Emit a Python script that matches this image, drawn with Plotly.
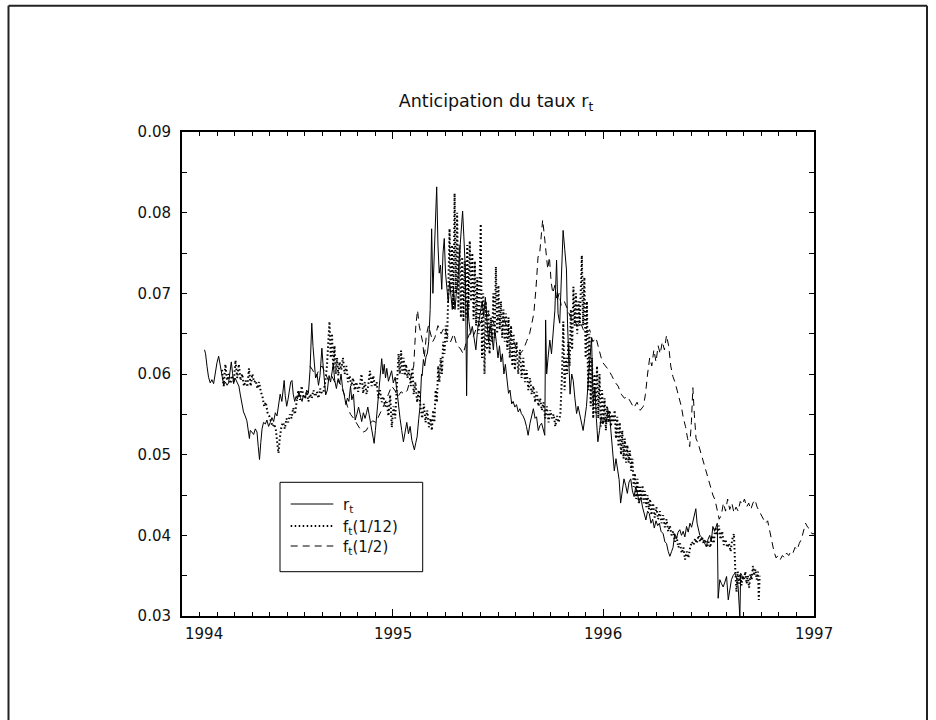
import plotly.graph_objects as go

# ---------------------------------------------------------------- data
X_TICKS = [1994, 1995, 1996, 1997]
X_TICK_TEXT = ["1994", "1995", "1996", "1997"]
Y_TICKS = [0.03, 0.04, 0.05, 0.06, 0.07, 0.08, 0.09]
Y_TICK_TEXT = ["0.03", "0.04", "0.05", "0.06", "0.07", "0.08", "0.09"]

TITLE = "Anticipation du taux r<sub>t</sub>"
NAMES = ["r<sub>t</sub>", "f<sub>t</sub>(1/12)", "f<sub>t</sub>(1/2)"]

# short rate r_t (date in years, level)
r_t = [
    (1994.107, .0630), (1994.112, .0625), (1994.119, .0609), (1994.126, .0596), (1994.134, .0589),
    (1994.142, .0593), (1994.150, .0588), (1994.158, .0603), (1994.166, .0614), (1994.174, .0622),
    (1994.182, .0609), (1994.190, .0596), (1994.198, .0586), (1994.206, .0590), (1994.214, .0586),
    (1994.221, .0589), (1994.228, .0600), (1994.234, .0615), (1994.240, .0601), (1994.245, .0588),
    (1994.252, .0595), (1994.261, .0590), (1994.270, .0585), (1994.277, .0574), (1994.285, .0560),
    (1994.292, .0553), (1994.300, .0548), (1994.308, .0542), (1994.320, .0520), (1994.324, .0530),
    (1994.332, .0528), (1994.340, .0525), (1994.348, .0532), (1994.356, .0528), (1994.362, .0510),
    (1994.368, .0494), (1994.374, .0515), (1994.380, .0532), (1994.387, .0540), (1994.396, .0538),
    (1994.403, .0543), (1994.411, .0535), (1994.419, .0540), (1994.427, .0546), (1994.435, .0541),
    (1994.443, .0552), (1994.451, .0548), (1994.458, .0560), (1994.466, .0575), (1994.474, .0566),
    (1994.480, .0583), (1994.485, .0592), (1994.490, .0573), (1994.497, .0560), (1994.503, .0568),
    (1994.510, .0578), (1994.516, .0590), (1994.522, .0592), (1994.528, .0575), (1994.535, .0566),
    (1994.541, .0572), (1994.548, .0569), (1994.555, .0578), (1994.562, .0571), (1994.570, .0566),
    (1994.577, .0574), (1994.585, .0570), (1994.592, .0580), (1994.600, .0576), (1994.608, .0606),
    (1994.616, .0663), (1994.622, .0634), (1994.628, .0609), (1994.634, .0595), (1994.641, .0600),
    (1994.648, .0586), (1994.655, .0598), (1994.660, .0615), (1994.664, .0632), (1994.670, .0610),
    (1994.676, .0585), (1994.682, .0574), (1994.690, .0580), (1994.698, .0598), (1994.705, .0590),
    (1994.712, .0606), (1994.718, .0612), (1994.725, .0592), (1994.733, .0582), (1994.740, .0593),
    (1994.748, .0588), (1994.755, .0600), (1994.762, .0583), (1994.770, .0574), (1994.778, .0562),
    (1994.785, .0570), (1994.792, .0566), (1994.800, .0585), (1994.806, .0568), (1994.814, .0575),
    (1994.822, .0543), (1994.830, .0550), (1994.838, .0559), (1994.846, .0550), (1994.853, .0541),
    (1994.861, .0552), (1994.869, .0545), (1994.876, .0552), (1994.882, .0559), (1994.888, .0550),
    (1994.893, .0543), (1994.901, .0530), (1994.907, .0522), (1994.912, .0514), (1994.918, .0530),
    (1994.925, .0551), (1994.930, .0560), (1994.938, .0590), (1994.944, .0605), (1994.948, .0619),
    (1994.954, .0600), (1994.960, .0612), (1994.966, .0595), (1994.972, .0607), (1994.980, .0591),
    (1994.988, .0600), (1994.995, .0604), (1995.003, .0589), (1995.012, .0596), (1995.020, .0580),
    (1995.027, .0560), (1995.035, .0545), (1995.043, .0530), (1995.051, .0516), (1995.059, .0528),
    (1995.067, .0540), (1995.075, .0526), (1995.083, .0535), (1995.091, .0518), (1995.097, .0510),
    (1995.103, .0506), (1995.110, .0515), (1995.116, .0522), (1995.124, .0545), (1995.130, .0560),
    (1995.137, .0600), (1995.140, .0598), (1995.146, .0618), (1995.152, .0610), (1995.158, .0621),
    (1995.165, .0626), (1995.171, .0640), (1995.178, .0680), (1995.185, .0780), (1995.191, .0700),
    (1995.197, .0745), (1995.203, .0790), (1995.209, .0832), (1995.215, .0760), (1995.221, .0725),
    (1995.227, .0735), (1995.233, .0705), (1995.239, .0750), (1995.245, .0768), (1995.251, .0725),
    (1995.257, .0705), (1995.264, .0688), (1995.270, .0715), (1995.276, .0695), (1995.283, .0680),
    (1995.289, .0705), (1995.296, .0680), (1995.302, .0700), (1995.308, .0710), (1995.315, .0740),
    (1995.321, .0760), (1995.327, .0790), (1995.332, .0802), (1995.338, .0770), (1995.345, .0730),
    (1995.351, .0573), (1995.356, .0690), (1995.362, .0665), (1995.370, .0650), (1995.378, .0659),
    (1995.386, .0642), (1995.395, .0630), (1995.403, .0655), (1995.411, .0670), (1995.418, .0680),
    (1995.425, .0690), (1995.432, .0672), (1995.440, .0695), (1995.448, .0665), (1995.455, .0640),
    (1995.462, .0660), (1995.470, .0650), (1995.478, .0630), (1995.485, .0655), (1995.492, .0640),
    (1995.500, .0620), (1995.507, .0635), (1995.514, .0615), (1995.521, .0625), (1995.528, .0600),
    (1995.535, .0612), (1995.542, .0590), (1995.550, .0576), (1995.557, .0580), (1995.565, .0563),
    (1995.572, .0566), (1995.580, .0559), (1995.588, .0562), (1995.596, .0553), (1995.604, .0557),
    (1995.611, .0551), (1995.619, .0548), (1995.627, .0543), (1995.635, .0535), (1995.643, .0524),
    (1995.652, .0539), (1995.660, .0550), (1995.668, .0557), (1995.676, .0545), (1995.683, .0547),
    (1995.691, .0530), (1995.699, .0536), (1995.707, .0539), (1995.715, .0530), (1995.722, .0524),
    (1995.726, .0667), (1995.731, .0600), (1995.738, .0621), (1995.746, .0642), (1995.754, .0625),
    (1995.762, .0650), (1995.770, .0679), (1995.778, .0741), (1995.785, .0675), (1995.793, .0663),
    (1995.801, .0725), (1995.809, .0778), (1995.817, .0754), (1995.825, .0729), (1995.830, .0663),
    (1995.836, .0620), (1995.842, .0575), (1995.850, .0600), (1995.857, .0592), (1995.865, .0570),
    (1995.873, .0551), (1995.880, .0560), (1995.888, .0551), (1995.896, .0542), (1995.904, .0530),
    (1995.912, .0545), (1995.920, .0560), (1995.928, .0590), (1995.936, .0620), (1995.944, .0645),
    (1995.952, .0560), (1995.960, .0584), (1995.967, .0545), (1995.974, .0516), (1995.982, .0530),
    (1995.990, .0547), (1995.998, .0538), (1996.006, .0545), (1996.014, .0540), (1996.022, .0555),
    (1996.030, .0548), (1996.038, .0525), (1996.046, .0500), (1996.052, .0480), (1996.060, .0495),
    (1996.067, .0485), (1996.075, .0469), (1996.082, .0440), (1996.090, .0458), (1996.098, .0470),
    (1996.106, .0462), (1996.114, .0452), (1996.122, .0466), (1996.130, .0470), (1996.138, .0455),
    (1996.146, .0448), (1996.154, .0460), (1996.162, .0452), (1996.170, .0440), (1996.178, .0447),
    (1996.186, .0435), (1996.194, .0428), (1996.202, .0419), (1996.210, .0430), (1996.218, .0427),
    (1996.226, .0415), (1996.234, .0420), (1996.242, .0409), (1996.250, .0418), (1996.258, .0412),
    (1996.266, .0415), (1996.274, .0405), (1996.284, .0402), (1996.292, .0392), (1996.300, .0390),
    (1996.308, .0380), (1996.316, .0374), (1996.324, .0380), (1996.331, .0385), (1996.339, .0402),
    (1996.347, .0396), (1996.355, .0404), (1996.363, .0407), (1996.371, .0400), (1996.379, .0405),
    (1996.387, .0398), (1996.395, .0411), (1996.403, .0404), (1996.411, .0415), (1996.419, .0410),
    (1996.426, .0419), (1996.433, .0425), (1996.439, .0433), (1996.445, .0415), (1996.451, .0407),
    (1996.458, .0400), (1996.466, .0398), (1996.473, .0394), (1996.481, .0390), (1996.489, .0386),
    (1996.497, .0395), (1996.505, .0400), (1996.512, .0392), (1996.520, .0411), (1996.528, .0405),
    (1996.536, .0410), (1996.541, .0415), (1996.545, .0322), (1996.553, .0345), (1996.561, .0340),
    (1996.569, .0336), (1996.577, .0342), (1996.585, .0349), (1996.593, .0320), (1996.600, .0333),
    (1996.608, .0345), (1996.616, .0350), (1996.624, .0353), (1996.632, .0348), (1996.640, .0336),
    (1996.648, .0298), (1996.652, .0353), (1996.658, .0350), (1996.664, .0345),
]

# one-month forward rate f_t(1/12), plotted at its maturity date
f_1_12 = [
    (1994.190, .0605), (1994.198, .0585), (1994.206, .0612), (1994.214, .0592), (1994.222, .0600),
    (1994.230, .0588), (1994.238, .0598), (1994.246, .0590), (1994.254, .0617), (1994.262, .0595),
    (1994.270, .0612), (1994.278, .0592), (1994.286, .0600), (1994.294, .0585), (1994.302, .0592),
    (1994.310, .0584), (1994.318, .0607), (1994.326, .0585), (1994.334, .0600), (1994.342, .0590),
    (1994.350, .0592), (1994.358, .0582), (1994.366, .0590), (1994.374, .0578), (1994.382, .0572),
    (1994.390, .0560), (1994.398, .0565), (1994.406, .0552), (1994.414, .0548), (1994.422, .0540),
    (1994.430, .0535), (1994.438, .0538), (1994.446, .0530), (1994.452, .0515), (1994.458, .0502),
    (1994.464, .0520), (1994.472, .0535), (1994.480, .0540), (1994.488, .0532), (1994.496, .0545),
    (1994.504, .0540), (1994.512, .0550), (1994.520, .0545), (1994.528, .0558), (1994.536, .0550),
    (1994.544, .0565), (1994.552, .0580), (1994.560, .0568), (1994.568, .0585), (1994.576, .0572),
    (1994.584, .0570), (1994.592, .0578), (1994.600, .0566), (1994.608, .0575), (1994.616, .0570),
    (1994.624, .0580), (1994.632, .0572), (1994.640, .0578), (1994.648, .0570), (1994.656, .0582),
    (1994.664, .0576), (1994.672, .0578), (1994.680, .0590), (1994.688, .0610), (1994.694, .0640),
    (1994.700, .0665), (1994.706, .0620), (1994.712, .0650), (1994.718, .0605), (1994.724, .0635),
    (1994.730, .0600), (1994.736, .0620), (1994.742, .0598), (1994.748, .0615), (1994.756, .0605),
    (1994.764, .0620), (1994.772, .0600), (1994.780, .0610), (1994.788, .0590), (1994.796, .0598),
    (1994.804, .0585), (1994.812, .0595), (1994.820, .0580), (1994.828, .0590), (1994.836, .0578),
    (1994.844, .0585), (1994.852, .0600), (1994.860, .0576), (1994.868, .0590), (1994.876, .0575),
    (1994.884, .0585), (1994.892, .0604), (1994.900, .0585), (1994.908, .0598), (1994.916, .0584),
    (1994.924, .0590), (1994.932, .0570), (1994.940, .0580), (1994.948, .0565), (1994.956, .0572),
    (1994.964, .0560), (1994.972, .0565), (1994.980, .0548), (1994.988, .0574), (1994.996, .0534),
    (1995.004, .0560), (1995.012, .0545), (1995.020, .0580), (1995.028, .0625), (1995.034, .0600),
    (1995.040, .0629), (1995.046, .0600), (1995.052, .0620), (1995.058, .0598), (1995.064, .0612),
    (1995.070, .0595), (1995.078, .0605), (1995.086, .0585), (1995.094, .0608), (1995.100, .0575),
    (1995.108, .0590), (1995.116, .0565), (1995.124, .0580), (1995.132, .0560), (1995.140, .0545),
    (1995.148, .0563), (1995.156, .0540), (1995.164, .0555), (1995.172, .0534), (1995.180, .0545),
    (1995.186, .0530), (1995.192, .0555), (1995.198, .0540), (1995.204, .0580), (1995.210, .0565),
    (1995.216, .0610), (1995.222, .0590), (1995.228, .0620), (1995.234, .0600), (1995.240, .0640),
    (1995.246, .0625), (1995.252, .0660), (1995.258, .0640), (1995.264, .0700), (1995.270, .0780),
    (1995.276, .0700), (1995.282, .0760), (1995.288, .0680), (1995.294, .0824), (1995.300, .0700),
    (1995.306, .0800), (1995.312, .0680), (1995.318, .0760), (1995.324, .0670), (1995.330, .0745),
    (1995.336, .0665), (1995.342, .0740), (1995.348, .0670), (1995.354, .0760), (1995.360, .0680),
    (1995.366, .0765), (1995.372, .0690), (1995.378, .0750), (1995.384, .0668), (1995.390, .0740),
    (1995.396, .0660), (1995.402, .0720), (1995.408, .0650), (1995.414, .0760), (1995.418, .0786),
    (1995.424, .0620), (1995.430, .0700), (1995.436, .0600), (1995.442, .0690), (1995.448, .0630),
    (1995.454, .0680), (1995.460, .0625), (1995.466, .0670), (1995.472, .0640), (1995.478, .0700),
    (1995.484, .0645), (1995.490, .0733), (1995.496, .0650), (1995.502, .0710), (1995.508, .0655),
    (1995.514, .0690), (1995.520, .0645), (1995.526, .0680), (1995.532, .0640), (1995.538, .0675),
    (1995.544, .0630), (1995.550, .0670), (1995.556, .0620), (1995.562, .0660), (1995.568, .0610),
    (1995.574, .0650), (1995.580, .0605), (1995.588, .0640), (1995.596, .0600), (1995.604, .0630),
    (1995.612, .0595), (1995.620, .0620), (1995.628, .0590), (1995.636, .0605), (1995.644, .0580),
    (1995.652, .0595), (1995.660, .0575), (1995.668, .0585), (1995.676, .0565), (1995.684, .0578),
    (1995.692, .0560), (1995.700, .0570), (1995.708, .0555), (1995.716, .0565), (1995.724, .0545),
    (1995.732, .0560), (1995.740, .0540), (1995.748, .0555), (1995.756, .0545), (1995.764, .0550),
    (1995.772, .0535), (1995.780, .0548), (1995.788, .0540), (1995.796, .0550), (1995.804, .0600),
    (1995.810, .0665), (1995.816, .0580), (1995.822, .0620), (1995.828, .0600), (1995.834, .0640),
    (1995.840, .0610), (1995.846, .0680), (1995.852, .0630), (1995.858, .0708), (1995.864, .0660),
    (1995.870, .0700), (1995.876, .0650), (1995.882, .0690), (1995.888, .0660), (1995.894, .0730),
    (1995.898, .0747), (1995.904, .0660), (1995.910, .0720), (1995.916, .0620), (1995.922, .0690),
    (1995.928, .0580), (1995.934, .0650), (1995.940, .0560), (1995.946, .0620), (1995.952, .0545),
    (1995.958, .0600), (1995.964, .0550), (1995.970, .0610), (1995.976, .0545), (1995.982, .0600),
    (1995.988, .0535), (1995.994, .0580), (1996.000, .0540), (1996.006, .0570), (1996.012, .0530),
    (1996.018, .0560), (1996.024, .0540), (1996.030, .0555), (1996.036, .0535), (1996.042, .0550),
    (1996.048, .0540), (1996.054, .0555), (1996.060, .0520), (1996.066, .0547), (1996.072, .0510),
    (1996.078, .0540), (1996.084, .0500), (1996.090, .0530), (1996.096, .0495), (1996.102, .0520),
    (1996.108, .0490), (1996.114, .0512), (1996.120, .0490), (1996.126, .0505), (1996.132, .0480),
    (1996.138, .0495), (1996.144, .0460), (1996.150, .0477), (1996.156, .0445), (1996.162, .0470),
    (1996.168, .0440), (1996.174, .0460), (1996.180, .0445), (1996.186, .0462), (1996.192, .0440),
    (1996.198, .0455), (1996.204, .0435), (1996.210, .0450), (1996.216, .0432), (1996.222, .0445),
    (1996.228, .0425), (1996.236, .0440), (1996.244, .0422), (1996.252, .0435), (1996.260, .0420),
    (1996.268, .0430), (1996.276, .0415), (1996.284, .0425), (1996.292, .0410), (1996.300, .0420),
    (1996.308, .0405), (1996.316, .0412), (1996.324, .0400), (1996.332, .0405), (1996.340, .0392),
    (1996.348, .0398), (1996.356, .0385), (1996.364, .0390), (1996.372, .0378), (1996.380, .0385),
    (1996.388, .0370), (1996.396, .0380), (1996.404, .0372), (1996.412, .0385), (1996.420, .0392),
    (1996.428, .0388), (1996.436, .0396), (1996.444, .0390), (1996.452, .0400), (1996.460, .0392),
    (1996.468, .0398), (1996.476, .0390), (1996.484, .0395), (1996.492, .0385), (1996.500, .0392),
    (1996.508, .0385), (1996.516, .0400), (1996.524, .0390), (1996.532, .0410), (1996.540, .0400),
    (1996.548, .0412), (1996.556, .0395), (1996.564, .0405), (1996.572, .0388), (1996.580, .0395),
    (1996.588, .0385), (1996.596, .0390), (1996.604, .0380), (1996.612, .0395), (1996.620, .0402),
    (1996.626, .0360), (1996.632, .0330), (1996.638, .0355), (1996.644, .0340), (1996.650, .0352),
    (1996.656, .0338), (1996.662, .0350), (1996.668, .0345), (1996.674, .0355), (1996.680, .0340),
    (1996.686, .0350), (1996.692, .0335), (1996.698, .0352), (1996.704, .0345), (1996.710, .0362),
    (1996.716, .0350), (1996.722, .0358), (1996.728, .0345), (1996.734, .0355), (1996.738, .0320),
    (1996.742, .0350),
]

# six-month forward rate f_t(1/2), plotted at its maturity date
f_1_2 = [
    (1994.607, .0610), (1994.620, .0605), (1994.635, .0596), (1994.650, .0605), (1994.665, .0610),
    (1994.680, .0600), (1994.695, .0592), (1994.710, .0598), (1994.725, .0590), (1994.740, .0595),
    (1994.755, .0585), (1994.770, .0575), (1994.785, .0560), (1994.800, .0550), (1994.815, .0545),
    (1994.830, .0538), (1994.845, .0532), (1994.860, .0528), (1994.875, .0530), (1994.890, .0538),
    (1994.905, .0542), (1994.920, .0540), (1994.935, .0548), (1994.950, .0555), (1994.965, .0565),
    (1994.980, .0575), (1994.995, .0585), (1995.010, .0580), (1995.025, .0572), (1995.040, .0578),
    (1995.055, .0575), (1995.070, .0580), (1995.085, .0595), (1995.100, .0610), (1995.110, .0660),
    (1995.118, .0679), (1995.126, .0660), (1995.134, .0650), (1995.142, .0640), (1995.150, .0620),
    (1995.160, .0648), (1995.170, .0660), (1995.180, .0648), (1995.190, .0640), (1995.200, .0645),
    (1995.215, .0660), (1995.230, .0650), (1995.245, .0658), (1995.260, .0648), (1995.275, .0640),
    (1995.290, .0650), (1995.305, .0635), (1995.320, .0632), (1995.335, .0625), (1995.350, .0640),
    (1995.365, .0650), (1995.380, .0645), (1995.395, .0655), (1995.410, .0660), (1995.425, .0668),
    (1995.440, .0670), (1995.455, .0675), (1995.470, .0668), (1995.485, .0660), (1995.500, .0670),
    (1995.515, .0665), (1995.530, .0668), (1995.545, .0655), (1995.560, .0650), (1995.575, .0640),
    (1995.590, .0630), (1995.605, .0625), (1995.620, .0630), (1995.635, .0640), (1995.650, .0650),
    (1995.660, .0662), (1995.670, .0675), (1995.680, .0705), (1995.690, .0745), (1995.698, .0750),
    (1995.705, .0770), (1995.712, .0791), (1995.720, .0772), (1995.728, .0750), (1995.736, .0730),
    (1995.744, .0745), (1995.752, .0715), (1995.760, .0700), (1995.770, .0710), (1995.780, .0690),
    (1995.790, .0700), (1995.800, .0685), (1995.815, .0690), (1995.830, .0680), (1995.845, .0670),
    (1995.860, .0668), (1995.875, .0660), (1995.890, .0665), (1995.905, .0655), (1995.920, .0650),
    (1995.935, .0655), (1995.950, .0640), (1995.965, .0645), (1995.980, .0630), (1995.995, .0615),
    (1996.010, .0610), (1996.025, .0605), (1996.040, .0598), (1996.055, .0590), (1996.070, .0585),
    (1996.085, .0575), (1996.100, .0570), (1996.115, .0572), (1996.130, .0565), (1996.145, .0558),
    (1996.160, .0565), (1996.175, .0555), (1996.190, .0560), (1996.200, .0575), (1996.210, .0600),
    (1996.220, .0620), (1996.230, .0610), (1996.240, .0630), (1996.250, .0615), (1996.260, .0635),
    (1996.270, .0625), (1996.280, .0640), (1996.290, .0630), (1996.300, .0648), (1996.310, .0635),
    (1996.320, .0610), (1996.330, .0597), (1996.340, .0590), (1996.350, .0580), (1996.360, .0570),
    (1996.370, .0560), (1996.380, .0545), (1996.390, .0535), (1996.400, .0520), (1996.410, .0510),
    (1996.418, .0540), (1996.425, .0583), (1996.432, .0550), (1996.440, .0520), (1996.450, .0514),
    (1996.460, .0505), (1996.470, .0495), (1996.480, .0485), (1996.490, .0478), (1996.500, .0470),
    (1996.510, .0460), (1996.520, .0450), (1996.530, .0444), (1996.540, .0430), (1996.550, .0420),
    (1996.560, .0425), (1996.570, .0440), (1996.580, .0430), (1996.590, .0445), (1996.600, .0432),
    (1996.610, .0440), (1996.620, .0428), (1996.630, .0435), (1996.640, .0430), (1996.650, .0442),
    (1996.660, .0438), (1996.670, .0445), (1996.680, .0435), (1996.690, .0440), (1996.700, .0432),
    (1996.710, .0440), (1996.720, .0444), (1996.730, .0435), (1996.740, .0430), (1996.750, .0425),
    (1996.760, .0420), (1996.770, .0415), (1996.780, .0418), (1996.790, .0405), (1996.800, .0394),
    (1996.810, .0380), (1996.820, .0372), (1996.830, .0375), (1996.840, .0370), (1996.850, .0375),
    (1996.860, .0372), (1996.870, .0378), (1996.880, .0375), (1996.890, .0380), (1996.900, .0378),
    (1996.910, .0385), (1996.920, .0382), (1996.930, .0390), (1996.940, .0395), (1996.950, .0405),
    (1996.960, .0415), (1996.970, .0410), (1996.980, .0408), (1996.990, .0402), (1997.000, .0402),
]

# ---------------------------------------------------------------- layout constants
W, H = 936, 720
L, R, T, B = 182, 122, 132, 104
FONT = "DejaVu Sans"
INK = "#111111"

STYLES = [
    dict(color="black", width=1),
    dict(color="black", width=2, dash="1.5px,2.5px"),
    dict(color="black", width=1, dash="7px,5px"),
]


def px_x(px):
    return (px - L) / (W - L - R)


def px_y(py):
    return 1 - (py - T) / (H - T - B)


fig = go.Figure()
for series, name, style in zip([r_t, f_1_12, f_1_2], NAMES, STYLES):
    fig.add_trace(go.Scatter(
        x=[p[0] for p in series], y=[p[1] for p in series],
        mode="lines", name=name, line=style, showlegend=False,
    ))

axis_common = dict(
    showline=True, linecolor="black", linewidth=2, mirror="allticks",
    ticks="inside", tickcolor="black", tickwidth=1,
    showgrid=False, zeroline=False,
)

fig.update_xaxes(
    range=[1994, 1997], tickvals=X_TICKS, showticklabels=False, ticklen=7,
    minor=dict(dtick=1 / 12, tick0=1994, ticks="inside", ticklen=4,
               tickcolor="black", showgrid=False),
    **axis_common,
)
fig.update_yaxes(
    range=[0.03, 0.09], tickvals=Y_TICKS, ticktext=Y_TICK_TEXT, ticklen=5,
    tickfont=dict(family=FONT, size=15, color=INK), ticklabelstandoff=6,
    minor=dict(dtick=0.005, tick0=0.03, ticks="inside", ticklen=5,
               tickcolor="black", showgrid=False),
    **axis_common,
)

annotations = []
# year labels under the x axis (the first one sits flush with the axis start)
for i, (v, txt) in enumerate(zip(X_TICKS, X_TICK_TEXT)):
    annotations.append(dict(
        x=v, xref="x", y=px_y(634), yref="paper", text=txt, showarrow=False,
        xanchor="left" if i == 0 else "center", yanchor="middle",
        xshift=1 if i == 0 else 0,
        font=dict(family=FONT, size=15, color=INK),
    ))

# boxed legend
shapes = [
    dict(type="rect", xref="paper", yref="paper",
         x0=px_x(280), x1=px_x(422.7), y0=px_y(571.7), y1=px_y(482.3),
         line=dict(color="black", width=1), fillcolor="white", layer="above"),
]
legend_rows = [504, 526, 546]
for row, name, style in zip(legend_rows, NAMES, STYLES):
    shapes.append(dict(type="line", xref="paper", yref="paper",
                       x0=px_x(290.7), x1=px_x(333.3), y0=px_y(row), y1=px_y(row),
                       line=style, layer="above"))
    annotations.append(dict(
        x=px_x(341), y=px_y(row + 1), xref="paper", yref="paper", text=name,
        showarrow=False, xanchor="left", yanchor="middle",
        font=dict(family=FONT, size=15, color=INK),
    ))

# page frame
frame_l, frame_t, frame_r = 8.5, 5.7, 927
shapes += [
    dict(type="line", xref="paper", yref="paper", x0=px_x(frame_l), x1=px_x(frame_l),
         y0=px_y(frame_t), y1=px_y(H + 2), line=dict(color="#222", width=2)),
    dict(type="line", xref="paper", yref="paper", x0=px_x(frame_l), x1=px_x(frame_r),
         y0=px_y(frame_t), y1=px_y(frame_t), line=dict(color="#222", width=2)),
    dict(type="line", xref="paper", yref="paper", x0=px_x(frame_r), x1=px_x(frame_r),
         y0=px_y(frame_t), y1=px_y(H + 2), line=dict(color="#222", width=2)),
]

fig.update_layout(
    width=W, height=H, autosize=False,
    margin=dict(l=L, r=R, t=T, b=B, pad=0),
    paper_bgcolor="white", plot_bgcolor="white",
    title=dict(text=TITLE, x=496 / W, xanchor="center",
               y=1 - 101 / H, yanchor="middle", yref="container", xref="container",
               font=dict(family=FONT, size=17.5, color=INK)),
    annotations=annotations, shapes=shapes,
)

fig.write_html("out.html")
